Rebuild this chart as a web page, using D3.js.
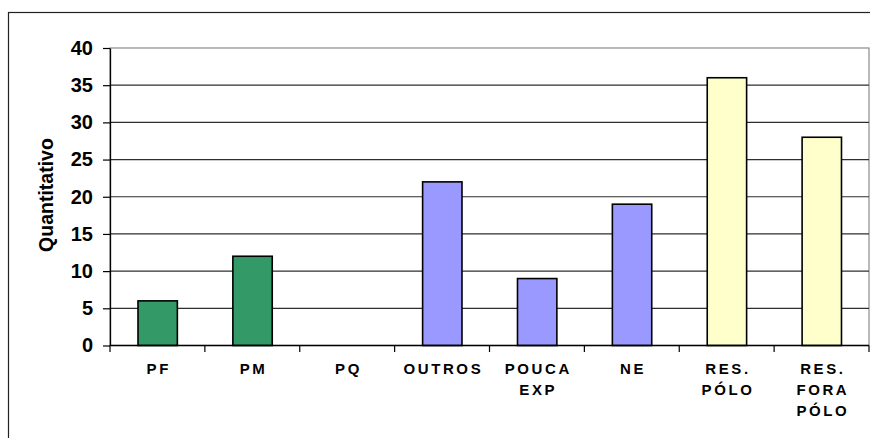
<!DOCTYPE html>
<html>
<head>
<meta charset="utf-8">
<script src="https://cdn.jsdelivr.net/npm/d3@7"></script>
<style>
  html, body { margin: 0; padding: 0; background: #fff; }
  svg { display: block; }
  text { font-family: Arial, "Liberation Sans", sans-serif; }
</style>
</head>
<body>
<svg id="chart" width="870" height="438"></svg>
<script>
// Categories and counts
const categories = ["PF", "PM", "PQ", "OUTROS", "POUCA EXP", "NE", "RES. PÓLO", "RES. FORA PÓLO"];
const values = [6, 12, 0, 22, 9, 19, 36, 28];
const groups = ["prof", "prof", "prof", "other", "other", "other", "res", "res"];
const groupColors = { prof: "#339966", other: "#9999FF", res: "#FFFFCC" };
const yTicks = [0, 5, 10, 15, 20, 25, 30, 35, 40];
const yTitle = "Quantitativo";

const svg = d3.select("#chart");
const W = 870, H = 438;
const plot = { left: 110, top: 48, right: 869, bottom: 345.5 };

// Outer chart frame (runs past the right and bottom edge of the view)
svg.append("rect")
  .attr("x", 8.5).attr("y", 12.5)
  .attr("width", W + 10).attr("height", H + 10)
  .attr("fill", "none").attr("stroke", "#222").attr("stroke-width", 1.2);

const x = d3.scaleBand().domain(categories).range([plot.left, plot.right]).padding(0);
const y = d3.scaleLinear().domain([0, 40]).range([plot.bottom, plot.top]);

// Plot area border
svg.append("rect")
  .attr("x", plot.left).attr("y", plot.top)
  .attr("width", plot.right - plot.left).attr("height", plot.bottom - plot.top)
  .attr("fill", "none").attr("stroke", "#8a8a8a").attr("stroke-width", 1.2);

// Horizontal gridlines
svg.append("g").selectAll("line")
  .data(yTicks.filter(t => t > 0 && t < 40))
  .join("line")
  .attr("x1", plot.left).attr("x2", plot.right)
  .attr("y1", d => y(d)).attr("y2", d => y(d))
  .attr("stroke", "#2e2e2e").attr("stroke-width", 1.2);

// Bars
const bw = x.bandwidth();
svg.append("g").selectAll("rect")
  .data(categories.map((c, i) => ({ c, v: values[i], g: groups[i] })).filter(d => d.v > 0))
  .join("rect")
  .attr("x", d => x(d.c) + bw * 0.295)
  .attr("width", bw * 0.415)
  .attr("y", d => y(d.v))
  .attr("height", d => y(0) - y(d.v))
  .attr("fill", d => groupColors[d.g])
  .attr("stroke", "#000").attr("stroke-width", 1.6);

// Y axis
const yAxis = svg.append("g")
  .attr("transform", `translate(${plot.left},0)`)
  .call(d3.axisLeft(y).tickValues(yTicks).tickSize(7).tickPadding(10).tickSizeOuter(0));
yAxis.select(".domain").attr("stroke", "#000").attr("stroke-width", 1.3);
yAxis.selectAll(".tick line").attr("stroke", "#000").attr("stroke-width", 1.2);
yAxis.selectAll(".tick text")
  .attr("fill", "#000").attr("font-size", "20px").attr("font-weight", "bold")
  .attr("font-family", "Arial, 'Liberation Sans', sans-serif");

// X axis: ticks on category boundaries
const xg = svg.append("g");
xg.append("line")
  .attr("x1", plot.left).attr("x2", plot.right)
  .attr("y1", plot.bottom).attr("y2", plot.bottom)
  .attr("stroke", "#000").attr("stroke-width", 1.3);
const boundaries = categories.map(c => x(c)).concat([x(categories[categories.length - 1]) + bw]);
xg.selectAll("line.tk")
  .data(boundaries)
  .join("line").attr("class", "tk")
  .attr("x1", d => d).attr("x2", d => d)
  .attr("y1", plot.bottom).attr("y2", plot.bottom + 6.5)
  .attr("stroke", "#000").attr("stroke-width", 1.2);

// Category labels, wrapped word by word
const lbl = xg.selectAll("text.cat")
  .data(categories)
  .join("text").attr("class", "cat")
  .attr("x", d => x(d) + bw / 2)
  .attr("y", 374)
  .attr("text-anchor", "middle")
  .attr("font-size", "15px").attr("font-weight", "bold")
  .attr("letter-spacing", "2.6px")
  .attr("fill", "#000");
lbl.each(function (d) {
  const t = d3.select(this);
  d.split(" ").forEach((w, i) => {
    t.append("tspan")
      .attr("x", x(d) + bw / 2 + 1.3)
      .attr("dy", i === 0 ? 0 : 21)
      .text(w);
  });
});

// Y axis title
svg.append("text")
  .attr("transform", `translate(52.5,195) rotate(-90)`)
  .attr("text-anchor", "middle")
  .attr("font-size", "19.5px").attr("font-weight", "bold")
  .attr("fill", "#000")
  .text(yTitle);
</script>
</body>
</html>
